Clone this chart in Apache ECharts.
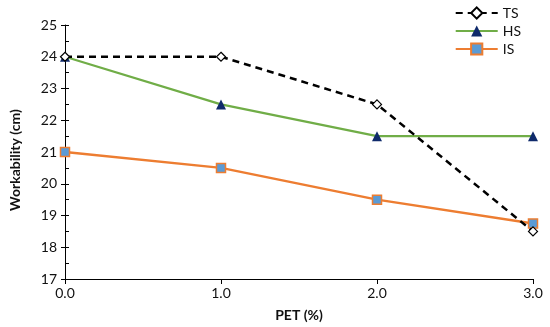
<!DOCTYPE html>
<html><head><meta charset="utf-8">
<script src="https://cdn.jsdelivr.net/npm/echarts@6/dist/echarts.min.js"></script>
<style>html,body{margin:0;padding:0;background:#fff}#c{width:550px;height:327px}</style>
</head><body><div id="c"></div>
<script>
const pet = [0, 1, 2, 3];
const tsValues = [24, 24, 22.5, 18.5];
const hsValues = [24, 22.5, 21.5, 21.5];
const isValues = [21, 20.5, 19.5, 18.75];
const seriesNames = ['TS', 'HS', 'IS'];
const xTitle = 'PET (%)';
const yTitle = 'Workability (cm)';

const font = 'Lato, "Liberation Sans", Arial, sans-serif';
const pairs = v => pet.map((x, i) => [x, v[i]]);
const chart = echarts.init(document.getElementById('c'));
const yBase = { type: 'value', min: 17, max: 25, interval: 1, position: 'left', splitLine: { show: false } };
chart.setOption({
  animation: false,
  textStyle: { fontFamily: font },
  grid: { left: 64, right: 17, top: 25, bottom: 48 },
  legend: {
    orient: 'vertical', right: 24, top: 1, itemGap: 4, itemWidth: 42, itemHeight: 14,
    textStyle: { fontSize: 14, color: '#111', fontFamily: font },
    data: seriesNames
  },
  xAxis: {
    type: 'value', min: 0, max: 3, interval: 1,
    name: xTitle, nameLocation: 'middle', nameGap: 29,
    nameTextStyle: { fontWeight: 'bold', fontSize: 14, color: '#111', fontFamily: font },
    axisLine: { lineStyle: { color: '#000', width: 1 } },
    axisTick: { show: true, inside: false, length: 5, lineStyle: { color: '#000' } },
    axisLabel: { formatter: v => v.toFixed(1), fontSize: 14, color: '#111', margin: 7 },
    splitLine: { show: false }
  },
  yAxis: [
    Object.assign({}, yBase, {
      name: yTitle, nameLocation: 'middle', nameGap: 43, nameRotate: 90,
      nameTextStyle: { fontWeight: 'bold', fontSize: 14, color: '#111', fontFamily: font, padding: [0, 0, 0, -16] },
      axisLine: { show: true, lineStyle: { color: '#000', width: 1 } },
      axisTick: { show: true, length: 4, lineStyle: { color: '#000' } },
      axisLabel: { fontSize: 14, color: '#111', margin: 8 }
    }),
    Object.assign({}, yBase, {
      axisLine: { show: false },
      axisTick: { show: true, inside: true, length: 4, lineStyle: { color: '#000' } },
      minorTick: { show: true, splitNumber: 2, length: 4, lineStyle: { color: '#000' } },
      axisLabel: { show: false }
    })
  ],
  series: [
    {
      name: seriesNames[0], type: 'line', data: pairs(tsValues), z: 3,
      lineStyle: { color: '#000', width: 2.5, type: [7, 5] },
      symbol: 'diamond', symbolSize: 9,
      itemStyle: { color: '#fff', borderColor: '#000', borderWidth: 1.2 }
    },
    {
      name: seriesNames[1], type: 'line', data: pairs(hsValues), z: 2,
      lineStyle: { color: '#70AD47', width: 2.2 },
      symbol: 'triangle', symbolSize: 10,
      itemStyle: { color: '#0F2A6B', borderColor: '#0F2A6B', borderWidth: 0 }
    },
    {
      name: seriesNames[2], type: 'line', data: pairs(isValues), z: 2,
      lineStyle: { color: '#ED7D31', width: 2.5 },
      symbol: 'rect', symbolSize: 9,
      itemStyle: { color: '#5B9BD5', borderColor: '#ED7D31', borderWidth: 1.5 }
    }
  ]
});
</script></body></html>
